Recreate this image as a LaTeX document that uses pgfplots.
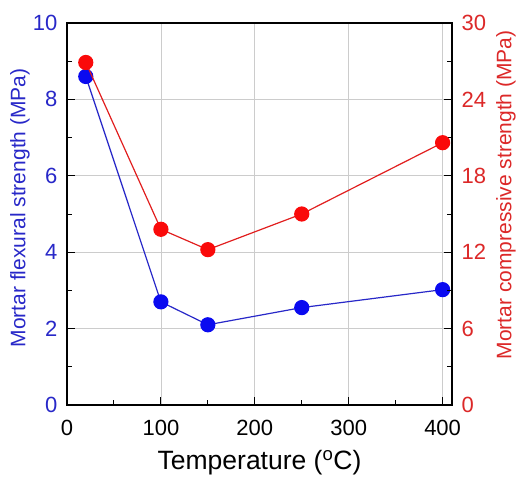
\documentclass[border=0pt]{standalone}
\usepackage{fontspec}
\setmainfont{Liberation Sans}
\usepackage{pgfplots}
\pgfplotsset{compat=1.18}
\definecolor{myblue}{RGB}{10,10,240}
\definecolor{lineblue}{RGB}{40,40,200}
\definecolor{labblue}{RGB}{40,40,200}
\definecolor{myred}{RGB}{250,10,10}
\definecolor{linered}{RGB}{225,30,30}
\definecolor{labred}{RGB}{220,40,40}
\begin{document}
\begin{tikzpicture}
\pgfplotsset{
  every axis/.append style={
    scale only axis, width=385pt, height=382pt,
    xmin=0, xmax=410,
    /pgf/number format/assume math mode=true,
    tick align=inside,
    major tick length=8pt, minor tick length=5pt,
    every tick/.style={black, line width=1pt},
    axis line style={line width=1.5pt},
    tick label style={font=\fontsize{22}{26}\selectfont},
    clip=false,
  }
}
\begin{axis}[
  ymin=0, ymax=10,
  xtick={0,100,200,300,400}, minor xtick={50,150,250,350},
  ytick={0,2,4,6,8,10}, minor ytick={1,3,5,7,9},
  xtick pos=bottom, ytick pos=left,
  grid=major,
  major grid style={gray!40, line width=0.8pt},
  yticklabel style={text=labblue, xshift=-6pt},
  xticklabel style={yshift=-12pt},
  xlabel={Temperature (\textsuperscript{o}C)},
  xlabel style={font=\fontsize{26.5}{30}\selectfont, at={(axis description cs:0.5,-0.152)}, anchor=center},
  ylabel={Mortar flexural strength (MPa)},
  ylabel style={font=\fontsize{21}{25}\selectfont, text=labblue, at={(axis description cs:-0.122,0.516)}, anchor=center},
]
\addplot[lineblue, line width=1.2pt, mark=*, mark size=7pt, mark options={fill=myblue, draw=myblue}]
  coordinates {(20,8.6) (100,2.7) (150,2.1) (250,2.55) (400,3.02)};
\end{axis}
\begin{axis}[
  ymin=0, ymax=30,
  axis x line=none,
  axis y line*=right,
  ytick={0,6,12,18,24,30}, minor ytick={3,9,15,21,27},
  yticklabel style={text=labred, xshift=6pt},
  ylabel={Mortar compressive strength (MPa)},
  ylabel style={font=\fontsize{21}{25}\selectfont, text=labred, at={(axis description cs:1.14,0.55)}, anchor=center},
]
\addplot[linered, line width=1.2pt, mark=*, mark size=7pt, mark options={fill=myred, draw=myred}]
  coordinates {(20,26.9) (100,13.8) (150,12.2) (250,15.0) (400,20.6)};
\end{axis}
\pgfresetboundingbox
\path ([xshift=-67pt,yshift=23pt]current axis.north west) ([xshift=68pt,yshift=-72pt]current axis.south east);
\end{tikzpicture}
\end{document}
